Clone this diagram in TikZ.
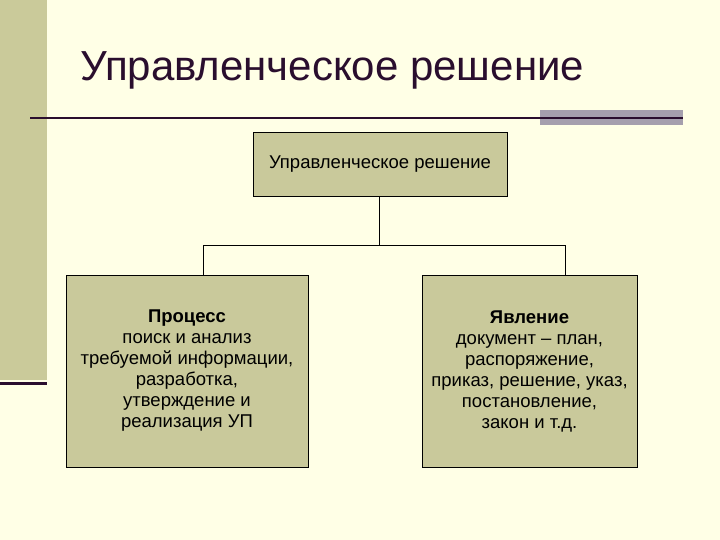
\documentclass[tikz,border=0pt]{standalone}
\usepackage{fontspec}
\setmainfont{Liberation Sans}
\definecolor{bg}{HTML}{FFFFE6}
\definecolor{olive}{HTML}{CACA9A}
\definecolor{boxc}{HTML}{C9C99B}
\definecolor{dpurp}{HTML}{2A0E2E}
\definecolor{grayb}{HTML}{A59FAD}
\begin{document}
\begin{tikzpicture}[x=1pt,y=-1pt,
  box/.style={draw=black,fill=boxc,line width=0.8pt,align=center,font=\fontsize{18.5}{21}\selectfont,inner sep=0pt},
  conn/.style={draw=black,line width=0.7pt}]
\fill[bg] (0,0) rectangle (720,540);
\useasboundingbox (0,0) rectangle (720,540);
\fill[olive] (0,0) rectangle (47,380);
\fill[dpurp] (0,381.5) rectangle (47,384.5);
\fill[grayb] (540,110) rectangle (683,125);
\draw[dpurp,line width=2pt] (30,118) -- (683,118);
\node[anchor=base west,text=dpurp,font=\fontsize{42}{44}\selectfont,inner sep=0pt] (title) at (80,81) {Управленческое решение};
\node[box,minimum width=254pt,minimum height=64pt] (top) at (380,164) {Управленческое решение};
\node[box,minimum width=242pt,minimum height=192pt] (left) at (187,371) {\textbf{Процесс}\\поиск и анализ\\требуемой информации,\\разработка,\\утверждение и\\реализация УП};
\node[box,minimum width=215pt,minimum height=192pt] (right) at (529.5,371) {\textbf{Явление}\\документ – план,\\распоряжение,\\приказ, решение, указ,\\постановление,\\закон и т.д.};
\coordinate (j) at (379,245);
\draw[conn] (top.south -| j) -- (j);
\draw[conn] (203,275) -- (203,245) -- (565,245) -- (565,275);
\end{tikzpicture}
\end{document}
